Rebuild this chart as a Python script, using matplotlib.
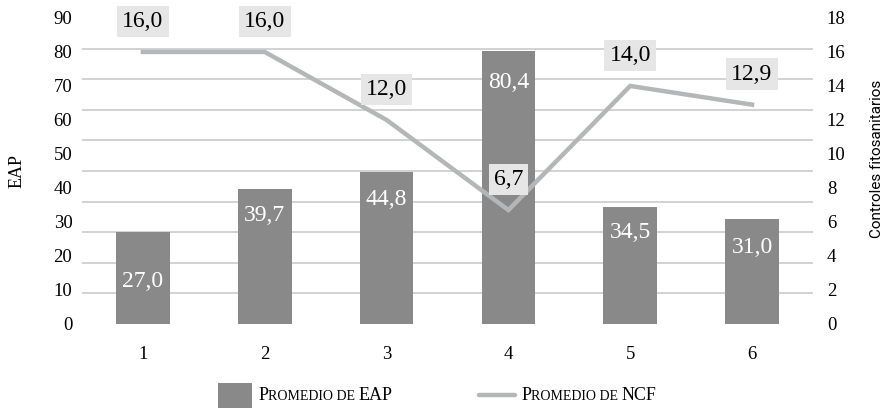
import numpy as np
import matplotlib
matplotlib.use("Agg")
import matplotlib.pyplot as plt
from matplotlib.offsetbox import AnchoredOffsetbox, HPacker, TextArea, DrawingArea
from matplotlib.patches import Rectangle
from matplotlib.lines import Line2D

# data
categories = ["1", "2", "3", "4", "5", "6"]
eap_mean = [27.0, 39.7, 44.8, 80.4, 34.5, 31.0]
ncf_mean = [16.0, 16.0, 12.0, 6.7, 14.0, 12.9]
eap_ticks = [0, 10, 20, 30, 40, 50, 60, 70, 80, 90]
ncf_ticks = [0, 2, 4, 6, 8, 10, 12, 14, 16, 18]

SERIF = ["Liberation Serif", "DejaVu Serif"]
BAR_COLOR = "#898989"
LINE_COLOR = "#b4b6b8"
GRID_COLOR = "#c6c6c6"
BOX_COLOR = "#e6e6e6"

# how far below the bar top each value label sits (EAP units)
bar_label_drop = [14.4, 7.9, 8.3, 9.5, 7.7, 8.6]
line_label_rise = 1.8

fig = plt.figure(figsize=(8.87, 4.08), dpi=100)
ax = fig.add_axes([0.0925, 0.206, 0.824, 0.750])
ax2 = ax.twinx()

x = np.arange(len(categories))

# bars on the left axis
ax.bar(x, eap_mean, width=0.44, color=BAR_COLOR, zorder=2)
for xi, v, d in zip(x, eap_mean, bar_label_drop):
    ax.text(xi, v - d, f"{v:.1f}".replace(".", ","), ha="center", va="center",
            color="white", fontsize=17, family=SERIF, zorder=3)

ax.set_xlim(-0.5, len(categories) - 0.5)
ax.set_ylim(0, 90)
ax.set_xticks(x)
ax.set_xticklabels(categories)
ax.set_yticks(eap_ticks)
# grid is split in ten equal parts, independent of the labelled ticks
ax.set_yticks(np.linspace(0, 90, 11), minor=True)
ax.grid(axis="y", which="minor", color=GRID_COLOR, linewidth=1.1, zorder=0)
ax.grid(axis="y", which="major", visible=False)
ax.tick_params(axis="y", which="both", length=0, pad=7, labelsize=13.5)
ax.tick_params(axis="x", length=0, pad=16, labelsize=13.5)
for lab in ax.get_xticklabels() + ax.get_yticklabels():
    lab.set_family(SERIF)
for s in ["top", "right", "left", "bottom"]:
    ax.spines[s].set_visible(False)
ax.set_ylabel("EAP", fontsize=13, family=SERIF)
ax.yaxis.set_label_coords(-0.078, 0.5)

# line on the right axis
ax2.plot(x, ncf_mean, color=LINE_COLOR, linewidth=3.2, solid_joinstyle="miter", zorder=2)
for xi, v in zip(x, ncf_mean):
    ax2.text(xi, v + line_label_rise, f"{v:.1f}".replace(".", ","), ha="center", va="center",
             color="black", fontsize=17, family=SERIF, zorder=4,
             bbox=dict(boxstyle="square,pad=0.22", fc=BOX_COLOR, ec="none"))
ax2.set_ylim(0, 18)
ax2.set_yticks(ncf_ticks)
ax2.tick_params(axis="y", length=0, pad=10, labelsize=13.5)
for lab in ax2.get_yticklabels():
    lab.set_family(SERIF)
for s in ["top", "right", "left", "bottom"]:
    ax2.spines[s].set_visible(False)
ax2.set_ylabel("Controles fitosanitarios", fontsize=11, family=["Roboto", "DejaVu Sans"])
ax2.yaxis.set_label_coords(1.078, 0.54)


def small_caps(text, big=13, small=10):
    # split text in runs of capitals / lowercase and set lowercase as smaller capitals
    runs = []
    for ch in text:
        lower = ch.islower() if ch.isalpha() else (runs[-1][1] if runs else False)
        if runs and runs[-1][1] == lower:
            runs[-1][0] += ch
        else:
            runs.append([ch, lower])
    boxes = [TextArea(r.upper() if low else r,
                      textprops=dict(size=small if low else big, family=SERIF, color="black"))
             for r, low in runs]
    return HPacker(children=boxes, align="baseline", pad=0, sep=0)


bar_key = DrawingArea(24.5, 18, 0, 0)
bar_key.add_artist(Rectangle((0, 0), 24.5, 18, fc=BAR_COLOR, ec="none"))
line_key = DrawingArea(26, 10, 0, 0)
line_key.add_artist(Line2D([0, 26], [5, 5], color=LINE_COLOR, linewidth=3.2,
                           solid_capstyle="round"))

entry1 = HPacker(children=[bar_key, small_caps("Promedio de EAP")], align="center", pad=0, sep=4.5)
entry2 = HPacker(children=[line_key, small_caps("Promedio de NCF")], align="center", pad=0, sep=4.5)
legend_row = HPacker(children=[entry1, entry2], align="center", pad=0, sep=62)
anchored = AnchoredOffsetbox(loc="center", child=legend_row, pad=0, borderpad=0, frameon=False,
                             bbox_to_anchor=(0.493, 0.031), bbox_transform=fig.transFigure)
fig.add_artist(anchored)

fig.savefig("out.png", dpi=100)
